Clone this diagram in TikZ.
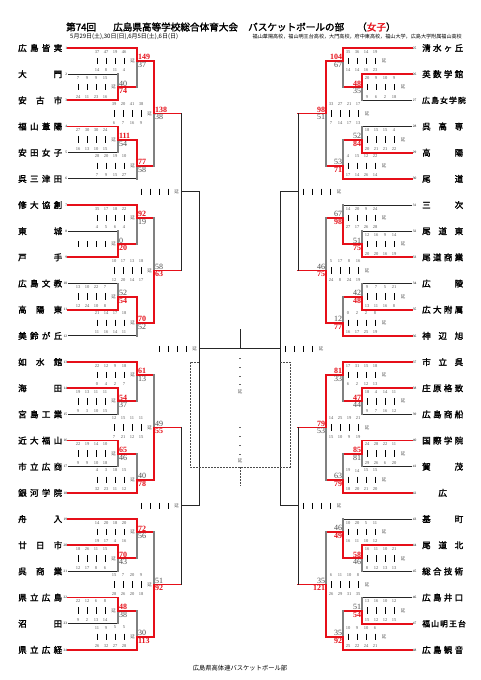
\documentclass[tikz,border=0pt]{standalone}
\usepackage{fontspec}
\setmainfont{Liberation Serif}
\newfontfamily\jp{Noto Sans CJK JP}
\newfontfamily\jpb{Noto Sans CJK JP}[FakeBold=2]
\definecolor{wred}{HTML}{E60F19}
\tikzset{
 win/.style={draw=wred,line width=1.8pt,line cap=rect},
 los/.style={draw=black!50,line width=1.5pt,line cap=rect},
 blk/.style={draw=black!85,line width=0.8pt},
 open/.style={draw=black!85,line width=1pt,line cap=rect},
 dsh/.style={draw=black!70,line width=0.5pt,dash pattern=on 2pt off 1pt},
 qn/.style={font=\fontsize{4.5}{5}\selectfont, text=black!65, inner sep=0pt},
 en/.style={font=\jp\fontsize{4.5}{5}\selectfont, text=black!65, inner sep=0pt},
 qbar/.style={draw=black, line width=0.9pt},
 sc/.style={inner sep=0pt},
 tname/.style={font=\jpb\fontsize{8.5}{9}\selectfont, inner sep=0pt},
 tnum/.style={font=\fontsize{3.5}{4}\selectfont, inner sep=0pt},
}
% match: name, x, y, top input, bottom input, top h-style, bottom h-style, top v-style, bottom v-style
\newcommand\mt[9]{%
 \coordinate (#1) at (#2,#3);
 \draw[#6] (#4) -- (#4 -| #1);
 \draw[#7] (#5) -- (#5 -| #1);
 \draw[#9] (#5 -| #1) -- (#1);
 \draw[#8] (#4 -| #1) -- (#1);
}
\newcommand\LT[3]{%
 \node[tname, anchor=west] (tL#1) at (18,#2) {\makebox[44pt][s]{#3}};
 \node[tnum, anchor=east] (nL#1) at (67.3,#2) {#1};
 \coordinate (a#1) at (68,#2);
}
\newcommand\RT[3]{%
 \node[tname, anchor=west] (tR#1) at (422,#2) {\makebox[41pt][s]{#3}};
 \node[tnum, anchor=west] (nR#1) at (412.7,#2) {#1};
 \coordinate (b#1) at (412,#2);
}
\newcommand\Lmk[1]{%
 \foreach \qi in {1,...,4} \draw[qbar] ([xshift={9*\qi-49}, yshift=3.2]#1) -- ++(0,6.4);
 \node[en] at ([xshift=-4.5]#1) {延};
}
\newcommand\Rmk[1]{%
 \foreach \qi in {1,...,4} \draw[qbar] ([xshift={9*\qi-4}, yshift=3.2]#1) -- ++(0,6.4);
 \node[en] at ([xshift=41]#1) {延};
}
\newcommand\setwc[1]{%
 \if t#1\def\tcA{wred}\def\bcA{black!70}\def\tfA{\bfseries}\def\bfA{}%
 \else\def\tcA{black!70}\def\bcA{wred}\def\tfA{}\def\bfA{\bfseries}\fi}
\newcommand\Ls[6]{%
 \Lmk{#1}\setwc{#4}%
 \node[sc, text=\tcA, font={\fontsize{8}{8}\selectfont\tfA}, anchor=south west] at ([xshift=0.8, yshift=0.9]#1) {#2};
 \node[sc, text=\bcA, font={\fontsize{8}{8}\selectfont\bfA}, anchor=north west] at ([xshift=0.8, yshift=-1]#1) {#3};
 \foreach \qv [count=\qi] in {#5} \node[qn] at ([xshift={9*\qi-49}, yshift=9.3]#1) {\qv};
 \foreach \qv [count=\qi] in {#6} \node[qn] at ([xshift={9*\qi-49}, yshift=-9.3]#1) {\qv};
}
\newcommand\Rs[6]{%
 \Rmk{#1}\setwc{#4}%
 \node[sc, text=\tcA, font={\fontsize{8}{8}\selectfont\tfA}, anchor=south east] at ([xshift=-0.8, yshift=0.9]#1) {#2};
 \node[sc, text=\bcA, font={\fontsize{8}{8}\selectfont\bfA}, anchor=north east] at ([xshift=-0.8, yshift=-1]#1) {#3};
 \foreach \qv [count=\qi] in {#5} \node[qn] at ([xshift={9*\qi-4}, yshift=9.3]#1) {\qv};
 \foreach \qv [count=\qi] in {#6} \node[qn] at ([xshift={9*\qi-4}, yshift=-9.3]#1) {\qv};
}
\begin{document}
\begin{tikzpicture}[x=1pt,y=-1pt]
\fill[white] (0,0) rectangle (481,680);
\useasboundingbox (0,0) rectangle (481,680);
% header
\node[font=\jpb\fontsize{9.6}{10}\selectfont, anchor=west, inner sep=0pt] (h1) at (66,27) {第74回};
\node[font=\jpb\fontsize{9.6}{10}\selectfont, anchor=west, inner sep=0pt] (h2) at (113,27) {広島県高等学校総合体育大会};
\node[font=\jpb\fontsize{9.6}{10}\selectfont, anchor=west, inner sep=0pt] (h3) at (248,27) {バスケットボールの部};
\node[font=\jpb\fontsize{9.6}{10}\selectfont, anchor=west, inner sep=0pt] (h4) at (357,27) {（\textcolor{wred}{女子}）};
\node[font=\jp\fontsize{6}{6}\selectfont, anchor=west, inner sep=0pt] (date) at (70,37) {5月29日(土),30日(日),6月5日(土),6日(日)};
\node[font=\jp\fontsize{5.1}{6}\selectfont, anchor=east, inner sep=0pt] (venue) at (462,37) {福山葦陽高校，福山明王台高校，大門高校，府中東高校，福山大学，広島大学附属福山高校};
\node[font=\jp\fontsize{6.3}{7}\selectfont, inner sep=0pt] (foot) at (240,668) {広島県高体連バスケットボール部};
% left teams
\LT{1}{48.00}{広 島 皆 実}
\LT{2}{74.17}{大 門}
\LT{3}{100.34}{安 古 市}
\LT{4}{126.51}{福 山 葦 陽}
\LT{5}{152.68}{安 田 女 子}
\LT{6}{178.85}{呉 三 津 田}
\LT{7}{205.02}{修 大 協 創}
\LT{8}{231.19}{東 城}
\LT{9}{257.36}{戸 手}
\LT{10}{283.53}{広 島 文 教}
\LT{11}{309.70}{高 陽 東}
\LT{12}{335.87}{美 鈴 が 丘}
\LT{13}{362.04}{如 水 館}
\LT{14}{388.21}{海 田}
\LT{15}{414.38}{宮 島 工 業}
\LT{16}{440.55}{近 大 福 山}
\LT{17}{466.72}{市 立 広 商}
\LT{18}{492.89}{銀 河 学 院}
\LT{19}{519.06}{舟 入}
\LT{20}{545.23}{廿 日 市}
\LT{21}{571.40}{呉 商 業}
\LT{22}{597.57}{県 立 広 島}
\LT{23}{623.74}{沼 田}
\LT{24}{649.91}{県 立 広 経}
% right teams
\RT{25}{48.00}{清 水 ヶ 丘}
\RT{26}{74.17}{英 数 学 館}
\RT{27}{100.34}{\fontsize{7.8}{8}\selectfont 広 島 女 学 院}
\RT{28}{126.51}{呉 高 専}
\RT{29}{152.68}{高 陽}
\RT{30}{178.85}{尾 道}
\RT{31}{205.02}{三 次}
\RT{32}{231.19}{尾 道 東}
\RT{33}{257.36}{尾 道 商 業}
\RT{34}{283.53}{広 陵}
\RT{35}{309.70}{広 大 附 属}
\RT{36}{335.87}{神 辺 旭}
\RT{37}{362.04}{市 立 呉}
\RT{38}{388.21}{庄 原 格 致}
\RT{39}{414.38}{広 島 商 船}
\RT{40}{440.55}{国 際 学 院}
\RT{41}{466.72}{賀 茂}
\RT{42}{492.89}{\hfil 広\hfil}
\RT{43}{519.06}{基 町}
\RT{44}{545.23}{尾 道 北}
\RT{45}{571.40}{総 合 技 術}
\RT{46}{597.57}{広 島 井 口}
\RT{47}{623.74}{\fontsize{7.8}{8}\selectfont 福 山 明 王 台}
\RT{48}{649.91}{広 島 観 音}
% left matches
\mt{M1}{118}{87.26}{a2}{a3}{blk}{win}{los}{win}
\mt{M2}{137}{61.09}{a1}{M1}{win}{win}{win}{los}
\mt{M3}{118}{139.60}{a4}{a5}{win}{blk}{win}{los}
\mt{M4}{137}{165.77}{M3}{a6}{win}{blk}{win}{los}
\mt{M5}{154}{113.43}{M2}{M4}{win}{win}{win}{los}
\mt{M6}{118}{244.28}{a8}{a9}{blk}{win}{los}{win}
\mt{M7}{137}{218.11}{a7}{M6}{win}{win}{win}{los}
\mt{M8}{118}{296.62}{a10}{a11}{blk}{win}{los}{win}
\mt{M9}{137}{322.79}{M8}{a12}{win}{blk}{win}{los}
\mt{M10}{154}{270.45}{M7}{M9}{win}{win}{los}{win}
\mt{M11}{118}{401.30}{a14}{a15}{win}{blk}{win}{los}
\mt{M12}{137}{375.13}{a13}{M11}{win}{win}{win}{los}
\mt{M13}{118}{453.64}{a16}{a17}{win}{blk}{win}{los}
\mt{M14}{137}{479.81}{M13}{a18}{win}{win}{los}{win}
\mt{M15}{154}{427.47}{M12}{M14}{win}{win}{los}{win}
\mt{M16}{118}{558.32}{a20}{a21}{win}{blk}{win}{los}
\mt{M17}{137}{532.15}{a19}{M16}{win}{win}{win}{los}
\mt{M18}{118}{610.66}{a22}{a23}{win}{blk}{win}{los}
\mt{M19}{137}{636.83}{M18}{a24}{win}{win}{los}{win}
\mt{M20}{154}{584.49}{M17}{M19}{win}{win}{los}{win}
\mt{S1}{181}{191.94}{M5}{M10}{win}{win}{open}{open}
\mt{S2}{181}{505.98}{M15}{M20}{win}{win}{open}{open}
\mt{F1}{199}{348.96}{S1}{S2}{open}{open}{open}{open}
% right matches
\mt{N1}{362}{87.26}{b26}{b27}{win}{blk}{win}{los}
\mt{N2}{343}{61.09}{b25}{N1}{win}{win}{win}{los}
\mt{N3}{362}{139.60}{b28}{b29}{blk}{win}{los}{win}
\mt{N4}{343}{165.77}{N3}{b30}{win}{win}{los}{win}
\mt{N5}{326}{113.43}{N2}{N4}{win}{win}{win}{los}
\mt{N6}{362}{244.28}{b32}{b33}{blk}{win}{los}{win}
\mt{N7}{343}{218.11}{b31}{N6}{blk}{win}{los}{win}
\mt{N8}{362}{296.62}{b34}{b35}{blk}{win}{los}{win}
\mt{N9}{343}{322.79}{N8}{b36}{win}{win}{los}{win}
\mt{N10}{326}{270.45}{N7}{N9}{win}{win}{los}{win}
\mt{N11}{362}{401.30}{b38}{b39}{win}{blk}{win}{los}
\mt{N12}{343}{375.13}{b37}{N11}{win}{win}{win}{los}
\mt{N13}{362}{453.64}{b40}{b41}{win}{blk}{win}{los}
\mt{N14}{343}{479.81}{N13}{b42}{win}{win}{los}{win}
\mt{N15}{326}{427.47}{N12}{N14}{win}{win}{win}{los}
\mt{N16}{362}{558.32}{b44}{b45}{win}{blk}{win}{los}
\mt{N17}{343}{532.15}{b43}{N16}{blk}{win}{los}{win}
\mt{N18}{362}{610.66}{b46}{b47}{blk}{win}{los}{win}
\mt{N19}{343}{636.83}{N18}{b48}{win}{win}{los}{win}
\mt{N20}{326}{584.49}{N17}{N19}{win}{win}{los}{win}
\mt{S3}{298}{191.94}{N5}{N10}{win}{win}{open}{open}
\mt{S4}{298}{505.98}{N15}{N20}{win}{win}{open}{open}
\mt{F2}{280}{348.96}{S3}{S4}{open}{open}{open}{open}
% final
\draw[open] (F1) -- (F2);
\coordinate (FT) at (240,329);
\draw[open] (FT) -- (FT |- F1);
\coordinate (d1) at (199,362); \coordinate (d2) at (190,362);
\coordinate (d3) at (190,467); \coordinate (d4) at (290,467);
\coordinate (d5) at (290,362); \coordinate (d6) at (280,362);
\draw[dsh] (d1) -- (d2) -- (d3) -- (d4) -- (d5) -- (d6);
\coordinate (d7) at (240,467); \coordinate (d8) at (240,486);
\draw[dsh] (d7) -- (d8);
\foreach \yy in {358,367,376,384,427,436,445,454} \draw[black!60,line width=0.6pt] (239,\yy) -- (241,\yy);
\node[en] (ex1) at (240,392) {延};
\node[en] (ex2) at (240,461) {延};
% left scores
\Ls{M1}{40}{74}{b}{7,9,9,15}{24,11,23,16}
\Ls{M2}{149}{37}{t}{37,47,19,46}{14,8,11,4}
\Ls{M3}{111}{54}{t}{27,30,30,24}{16,13,10,15}
\Ls{M4}{77}{58}{t}{28,20,19,10}{7,9,15,27}
\Ls{M5}{138}{38}{t}{39,20,41,38}{6,7,16,9}
\Ls{M6}{0}{20}{b}{}{}
\Ls{M7}{92}{19}{t}{35,17,18,22}{4,5,6,4}
\Ls{M8}{52}{54}{b}{13,10,22,7}{12,24,10,8}
\Ls{M9}{70}{52}{t}{21,14,17,18}{11,16,14,11}
\Ls{M10}{58}{63}{b}{10,17,13,18}{12,20,14,17}
\Ls{M11}{54}{37}{t}{19,13,11,11}{9,3,10,15}
\Ls{M12}{61}{13}{t}{22,12,9,18}{0,4,2,7}
\Ls{M13}{65}{46}{t}{22,19,14,10}{9,9,10,18}
\Ls{M14}{40}{78}{b}{4,3,18,15}{32,23,11,12}
\Ls{M15}{49}{55}{b}{12,15,11,11}{7,21,12,15}
\Ls{M16}{70}{43}{t}{18,26,11,15}{12,17,8,6}
\Ls{M17}{72}{56}{t}{14,20,18,20}{19,17,4,16}
\Ls{M18}{48}{38}{t}{22,12,6,8}{9,2,13,14}
\Ls{M19}{30}{113}{b}{11,9,5,5}{26,32,27,28}
\Ls{M20}{51}{92}{b}{15,7,20,9}{28,26,20,18}
\Lmk{S1} \Lmk{S2} \Lmk{F1}
% right scores
\Rs{N1}{48}{35}{t}{20,9,10,9}{9,6,2,18}
\Rs{N2}{104}{67}{t}{35,36,14,19}{14,14,16,23}
\Rs{N3}{52}{84}{b}{18,15,15,4}{20,21,21,22}
\Rs{N4}{53}{71}{b}{4,15,12,22}{17,14,26,14}
\Rs{N5}{98}{51}{t}{33,27,21,17}{7,14,17,13}
\Rs{N6}{51}{75}{b}{12,16,9,14}{20,20,16,19}
\Rs{N7}{67}{98}{b}{14,20,9,24}{27,17,26,28}
\Rs{N8}{42}{48}{b}{9,7,5,21}{13,11,16,8}
\Rs{N9}{12}{77}{b}{0,2,2,8}{16,17,25,19}
\Rs{N10}{46}{75}{b}{5,17,8,16}{24,8,24,19}
\Rs{N11}{47}{44}{t}{18,4,14,11}{9,7,16,12}
\Rs{N12}{81}{33}{t}{17,31,15,18}{6,2,12,13}
\Rs{N13}{85}{81}{t}{24,28,22,11}{29,26,6,20}
\Rs{N14}{63}{79}{b}{19,14,15,15}{18,20,21,20}
\Rs{N15}{79}{53}{t}{14,25,19,21}{15,10,9,19}
\Rs{N16}{58}{46}{t}{16,11,10,21}{8,12,13,13}
\Rs{N17}{46}{49}{b}{10,20,5,11}{16,11,10,12}
\Rs{N18}{51}{54}{b}{13,16,10,12}{15,12,12,15}
\Rs{N19}{35}{92}{b}{10,9,10,6}{25,22,24,21}
\Rs{N20}{35}{121}{b}{6,11,10,8}{26,29,31,35}
\Rmk{S3} \Rmk{S4} \Rmk{F2}
\end{tikzpicture}
\end{document}
